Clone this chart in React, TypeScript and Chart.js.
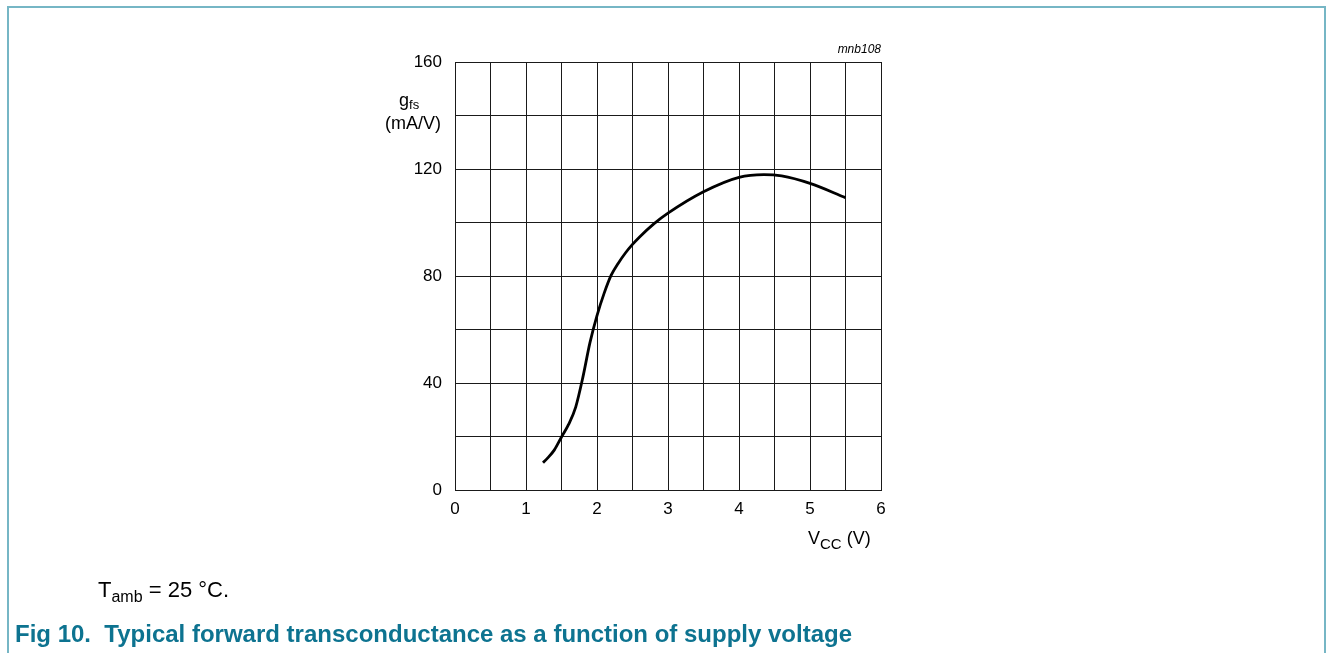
import React, { useEffect, useRef } from "react";
import { Chart, registerables } from "chart.js";

Chart.register(...registerables);

const vccValues = [1.24, 1.3, 1.4, 1.5, 1.6, 1.7, 1.8, 1.9, 2.0, 2.1, 2.2, 2.3, 2.4, 2.5, 2.6, 2.8, 3.0, 3.5, 4.0, 4.35, 4.6, 5.0, 5.5];
const gfsValues = [10.2, 11.8, 15, 19.8, 24.5, 31, 42, 55, 65.2, 73.5, 80.3, 84.8, 88.6, 91.8, 94.6, 99.5, 103.5, 111.5, 116.9, 117.9, 117.4, 114.6, 109.3];
const xTickLabels = ["0", "1", "2", "3", "4", "5", "6"];
const yTickLabels = ["0", "40", "80", "120", "160"];

const FONT = "'Liberation Sans', Arial, Helvetica, sans-serif";

export default function App() {
  const canvasRef = useRef<HTMLCanvasElement | null>(null);

  useEffect(() => {
    const canvas = canvasRef.current;
    if (!canvas) return;
    const points = vccValues.map((v, i) => ({ x: v, y: gfsValues[i] }));
    const chart = new Chart(canvas, {
      type: "line",
      data: {
        datasets: [
          {
            data: points,
            borderColor: "#000000",
            borderWidth: 2.8,
            pointRadius: 0,
            fill: false,
            cubicInterpolationMode: "monotone",
          },
        ],
      },
      options: {
        animation: false,
        responsive: false,
        maintainAspectRatio: false,
        events: [],
        layout: { padding: { left: 405, right: 448, top: 62, bottom: 133 } },
        plugins: { legend: { display: false }, tooltip: { enabled: false }, title: { display: false } },
        scales: {
          x: {
            type: "linear",
            min: 0,
            max: 6,
            afterFit: (scale: any) => {
              scale.height = 30;
            },
            afterBuildTicks: (scale: any) => {
              const t = [];
              for (let i = 0; i <= 12; i++) t.push({ value: i * 0.5 });
              scale.ticks = t;
            },
            grid: { color: "#1a1a1a", lineWidth: 1, drawTicks: false },
            border: { display: true, color: "#1a1a1a", width: 1 },
            ticks: {
              autoSkip: false,
              maxRotation: 0,
              padding: 9,
              color: "#000",
              font: { family: FONT, size: 17 },
              callback: (value: any) => {
                const idx = xTickLabels.indexOf(String(value));
                return Number.isInteger(value) && idx >= 0 ? xTickLabels[idx] : "";
              },
            },
          },
          y: {
            type: "linear",
            min: 0,
            max: 160,
            afterFit: (scale: any) => {
              scale.width = 50;
            },
            afterBuildTicks: (scale: any) => {
              const t = [];
              for (let i = 0; i <= 8; i++) t.push({ value: i * 20 });
              scale.ticks = t;
            },
            grid: { color: "#1a1a1a", lineWidth: 1, drawTicks: false },
            border: { display: true, color: "#1a1a1a", width: 1 },
            ticks: {
              autoSkip: false,
              padding: 13,
              color: "#000",
              font: { family: FONT, size: 17 },
              callback: (value: any) => {
                const s = String(value);
                return yTickLabels.includes(s) ? s : "";
              },
            },
          },
        },
      },
    });
    return () => chart.destroy();
  }, []);

  const abs = (extra: React.CSSProperties): React.CSSProperties => ({
    position: "absolute",
    fontFamily: FONT,
    color: "#000",
    whiteSpace: "nowrap",
    lineHeight: 1,
    ...extra,
  });

  return (
    <div style={{ position: "absolute", left: 0, top: 0, width: 1329, height: 653, background: "#fff", overflow: "hidden" }}>
      <div
        style={{
          position: "absolute",
          left: 7,
          top: 6,
          width: 1319,
          height: 660,
          borderTop: "2px solid #76b6c5",
          borderLeft: "2px solid #76b6c5",
          borderRight: "2px solid #76b6c5",
          boxSizing: "border-box",
        }}
      />
      <canvas ref={canvasRef} width={1329} height={653} style={{ position: "absolute", left: 0, top: 0, width: 1329, height: 653 }} />
      <div style={abs({ right: 1329 - 881, top: 43, fontSize: 12, fontStyle: "italic", textAlign: "right" })}>mnb108</div>
      <div style={abs({ left: 399, top: 91, fontSize: 18 })}>
        g<sub style={{ fontSize: 13, verticalAlign: "-3px" }}>fs</sub>
      </div>
      <div style={abs({ right: 1329 - 441, top: 114, fontSize: 18, textAlign: "right" })}>(mA/V)</div>
      <div style={abs({ left: 808, top: 529, fontSize: 18 })}>
        V<sub style={{ fontSize: 15, verticalAlign: "-5px" }}>CC</sub> (V)
      </div>
      <div style={abs({ left: 98, top: 579, fontSize: 22 })}>
        T<sub style={{ fontSize: 16, verticalAlign: "-5px" }}>amb</sub> = 25 °C.
      </div>
      <div style={abs({ left: 15, top: 622, fontSize: 24, fontWeight: "bold", color: "#0d7390" })}>
        Fig 10.&nbsp; Typical forward transconductance as a function of supply voltage
      </div>
    </div>
  );
}
